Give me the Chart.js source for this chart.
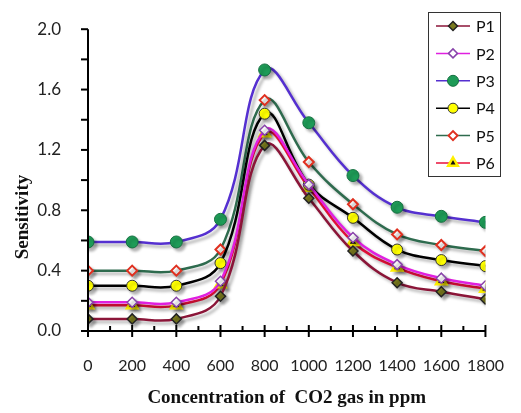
<!DOCTYPE html>
<html><head><meta charset="utf-8">
<script src="https://cdn.jsdelivr.net/npm/chart.js@4/dist/chart.umd.min.js"></script>
<style>html,body{margin:0;padding:0;background:#fff}#wrap{width:521px;height:413px}</style>
</head><body><div id="wrap"><canvas id="c" width="521" height="413"></canvas></div>
<script>
const concentrations = [0,200,400,600,800,1000,1200,1400,1600,1800];
const seriesNames = ['P1','P2','P3','P4','P5','P6'];
const P1 = [0.08,0.08,0.08,0.23,1.23,0.88,0.53,0.32,0.26,0.21];
const P2 = [0.19,0.19,0.19,0.33,1.33,0.97,0.62,0.44,0.35,0.30];
const P3 = [0.59,0.59,0.59,0.74,1.73,1.38,1.03,0.82,0.76,0.72];
const P4 = [0.30,0.30,0.30,0.45,1.44,0.97,0.75,0.54,0.47,0.43];
const P5 = [0.40,0.40,0.40,0.54,1.53,1.12,0.84,0.64,0.57,0.53];
const P6 = [0.17,0.17,0.17,0.31,1.31,0.95,0.59,0.42,0.33,0.28];
const yTickLabels = ['0.0','0.4','0.8','1.2','1.6','2.0'];
const xTickLabels = ['0','200','400','600','800','1000','1200','1400','1600','1800'];
const xTitle = 'Concentration of  CO2 gas in ppm';
const yTitle = 'Sensitivity';

const styles = [
  {line:'#8B1538', bg:'#7A7A1E', bd:'#222', ps:'rectRot', r:5, bw:1.5},
  {line:'#E020E0', bg:'#ffffff', bd:'#8844AA', ps:'rectRot', r:5, bw:1.5},
  {line:'#5530D0', bg:'#1E9B57', bd:'#157040', ps:'circle', r:6, bw:1},
  {line:'#000000', bg:'#FFFF00', bd:'#333', ps:'circle', r:5.5, bw:1},
  {line:'#2E6B4E', bg:'#ffffff', bd:'#E03020', ps:'rectRot', r:5, bw:2},
  {line:'#E8103A', bg:'#111111', bd:'#FFF000', ps:'triangle', r:6, bw:2.5}
];
const seriesData = [P1,P2,P3,P4,P5,P6];
const tickFont = '"Liberation Sans Narrow", Lato, "Open Sans", sans-serif';

const datasets = seriesNames.map((n,i)=>({
  label:n,
  data: concentrations.map((x,j)=>({x:x,y:seriesData[i][j]})),
  borderColor: styles[i].line,
  borderWidth: 2.5,
  pointStyle: styles[i].ps,
  pointRadius: styles[i].r,
  pointBackgroundColor: styles[i].bg,
  pointBorderColor: styles[i].bd,
  pointBorderWidth: styles[i].bw,
  tension: 0.4,
  fill:false
}));

const decor = {
  id:'decor',
  beforeDatasetDraw(chart){
    const ctx=chart.ctx; ctx.save();
    ctx.shadowColor='rgba(0,0,0,0.3)'; ctx.shadowOffsetX=3; ctx.shadowOffsetY=3; ctx.shadowBlur=3;
  },
  afterDatasetDraw(chart){ chart.ctx.restore(); },
  afterDraw(chart){
    const ctx=chart.ctx, xs=chart.scales.x, ys=chart.scales.y, ca=chart.chartArea;
    ctx.save();
    ctx.strokeStyle='#000'; ctx.lineWidth=2;
    ctx.beginPath();
    ctx.moveTo(ca.left, ys.getPixelForValue(2.0)); ctx.lineTo(ca.left, ys.getPixelForValue(0));
    ctx.lineTo(xs.getPixelForValue(1800), ys.getPixelForValue(0));
    ctx.stroke();
    const y0=ys.getPixelForValue(0);
    for(let v=0; v<=1800; v+=100){
      const px=xs.getPixelForValue(v);
      ctx.beginPath();
      if(v%200===0){ ctx.moveTo(px,y0-6); ctx.lineTo(px,y0+6);} else { ctx.moveTo(px,y0-5); ctx.lineTo(px,y0);}
      ctx.stroke();
    }
    for(let k=0;k<=10;k++){
      const py=ys.getPixelForValue(k*0.2);
      ctx.beginPath(); ctx.moveTo(ca.left-7,py); ctx.lineTo(ca.left,py); ctx.stroke();
    }
    // y title
    ctx.save();
    ctx.translate(23,217); ctx.rotate(-Math.PI/2);
    ctx.font='bold 19px "Liberation Serif", serif'; ctx.fillStyle='#111';
    ctx.textAlign='center'; ctx.textBaseline='middle';
    ctx.fillText(yTitle,0,0);
    ctx.restore();
    // legend
    const L=428,T=12,W=72,H=164;
    ctx.shadowColor='transparent';
    ctx.fillStyle='#fff'; ctx.fillRect(L,T,W,H);
    ctx.lineWidth=1; ctx.strokeStyle='#333'; ctx.strokeRect(L+0.5,T+0.5,W,H);
    ctx.font='16px Lato, "Open Sans", sans-serif'; ctx.textBaseline='middle'; ctx.textAlign='left';
    for(let i=0;i<6;i++){
      const cy=T+14+i*27.4;
      ctx.strokeStyle=styles[i].line; ctx.lineWidth=1.5;
      ctx.beginPath(); ctx.moveTo(L+8,cy); ctx.lineTo(L+42,cy); ctx.stroke();
      ctx.fillStyle=styles[i].bg; ctx.strokeStyle=styles[i].bd; ctx.lineWidth=styles[i].bw;
      Chart.helpers.drawPoint(ctx,{pointStyle:styles[i].ps, radius:styles[i].r-0.5, rotation:0, borderWidth:styles[i].bw}, L+25, cy);
      ctx.fillStyle='#111';
      ctx.fillText(seriesNames[i], L+48, cy+1);
    }
    ctx.restore();
  }
};

new Chart(document.getElementById('c'),{
  type:'line',
  data:{datasets},
  options:{
    responsive:false, animation:false,
    layout:{padding:{top:13,right:15,left:0,bottom:0}},
    plugins:{legend:{display:false},tooltip:{enabled:false}},
    scales:{
      x:{type:'linear',min:0,max:1800,
        grid:{display:false}, border:{display:false},
        afterFit:(s)=>{s.height=82;},
        ticks:{stepSize:200, padding:17, color:'#222', font:{family:tickFont,size:16},
          callback:(v)=>{const i=concentrations.indexOf(v); return i>=0?xTickLabels[i]:'';}},
        title:{display:true,text:xTitle,color:'#111',
          font:{family:'"Liberation Serif", serif',size:19,weight:'bold'},padding:{top:0,bottom:4}}
      },
      y:{min:0,max:2.0,
        grid:{display:false}, border:{display:false},
        afterFit:(s)=>{s.width=88;},
        ticks:{stepSize:0.4, padding:19, color:'#222', font:{family:tickFont,size:17},
          callback:(v,i)=>yTickLabels[i]},
        title:{display:false}
      }
    }
  },
  plugins:[decor]
});
</script></body></html>
